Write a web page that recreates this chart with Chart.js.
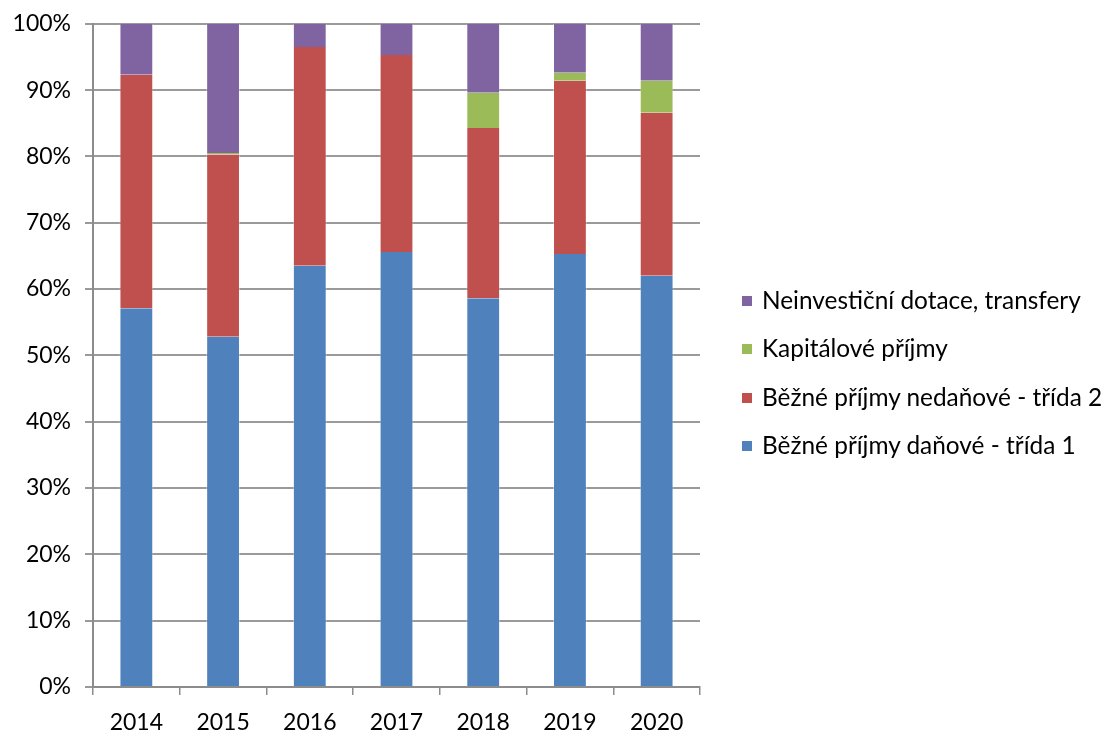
<!DOCTYPE html>
<html>
<head>
<meta charset="utf-8">
<script src="https://cdn.jsdelivr.net/npm/chart.js@4/dist/chart.umd.min.js"></script>
<style>
  body { margin: 0; background: #fff; }
  #wrap { position: relative; width: 1110px; height: 731px; }
  #legend { position: absolute; left: 742px; top: 285px; margin: 0; padding: 0; list-style: none;
    font-family: Lato, "Noto Sans", sans-serif; font-size: 24.4px; color: #000; }
  #legend li { height: 48.3px; display: flex; align-items: flex-start; white-space: nowrap; }
  #legend span.box { width: 10px; height: 10px; margin: 11px 10px 0 0; display: inline-block; }
</style>
</head>
<body>
<div id="wrap">
  <canvas id="myChart" width="1110" height="731"></canvas>
  <ul id="legend"></ul>
</div>
<script>
// data (percent share of each year)
const years = ["2014", "2015", "2016", "2017", "2018", "2019", "2020"];
const danove = [57.1, 52.8, 63.5, 65.6, 58.6, 65.3, 62.0];
const nedanove = [35.2, 27.5, 33.0, 29.7, 25.7, 26.1, 24.6];
const kapitalove = [0, 0.2, 0, 0, 5.3, 1.2, 4.8];
const dotace = [7.7, 19.5, 3.5, 4.7, 10.4, 7.4, 8.6];
const yTicks = [0, 10, 20, 30, 40, 50, 60, 70, 80, 90, 100];

const series = [
  { label: "Běžné příjmy daňové  - třída 1", data: danove, color: "#4f81bd" },
  { label: "Běžné příjmy nedaňové - třída 2", data: nedanove, color: "#c0504d" },
  { label: "Kapitálové příjmy", data: kapitalove, color: "#9bbb59" },
  { label: "Neinvestiční dotace, transfery", data: dotace, color: "#8064a2" },
];

const xFont = { family: "Lato, 'Noto Sans', sans-serif", size: 23 };
const yFont = { family: "Lato, 'Noto Sans', sans-serif", size: 23, lineHeight: 0.85 };

document.addEventListener("DOMContentLoaded", function () {
  const ctx = document.getElementById("myChart").getContext("2d");

  new Chart(ctx, {
    type: "bar",
    data: {
      labels: years,
      datasets: series.map(s => ({
        label: s.label,
        data: s.data,
        backgroundColor: s.color,
        borderColor: "rgba(255,255,255,0.35)",
        borderWidth: { left: 1, right: 1, top: 0, bottom: 0 },
        categoryPercentage: 1,
        barPercentage: 0.39,
      })),
    },
    options: {
      responsive: false,
      animation: false,
      layout: { padding: { top: 22, right: 410, bottom: 0, left: 0 } },
      plugins: {
        legend: { display: false },
        tooltip: { enabled: false },
      },
      scales: {
        x: {
          stacked: true,
          grid: { display: true, drawOnChartArea: false, offset: true, tickLength: 8, color: "#8c8c8c", lineWidth: 1.5 },
          border: { color: "#8c8c8c", width: 2 },
          ticks: { color: "#000", font: xFont, padding: 14 },
          afterFit: scale => { scale.height = 44; },
        },
        y: {
          stacked: true,
          min: 0,
          max: 100,
          afterBuildTicks: scale => { scale.ticks = yTicks.map(v => ({ value: v })); },
          grid: { color: "#9a9a9a", lineWidth: 2, tickLength: 8 },
          border: { color: "#8c8c8c", width: 2 },
          ticks: { color: "#000", font: yFont, padding: 14, callback: v => v + "%" },
          afterFit: scale => { scale.width = 93; },
        },
      },
    },
  });

  // legend, reversed like the original
  const legend = document.getElementById("legend");
  series.slice().reverse().forEach(s => {
    const li = document.createElement("li");
    const box = document.createElement("span");
    box.className = "box";
    box.style.background = s.color;
    li.appendChild(box);
    li.appendChild(document.createTextNode(s.label));
    legend.appendChild(li);
  });
});
</script>
</body>
</html>
